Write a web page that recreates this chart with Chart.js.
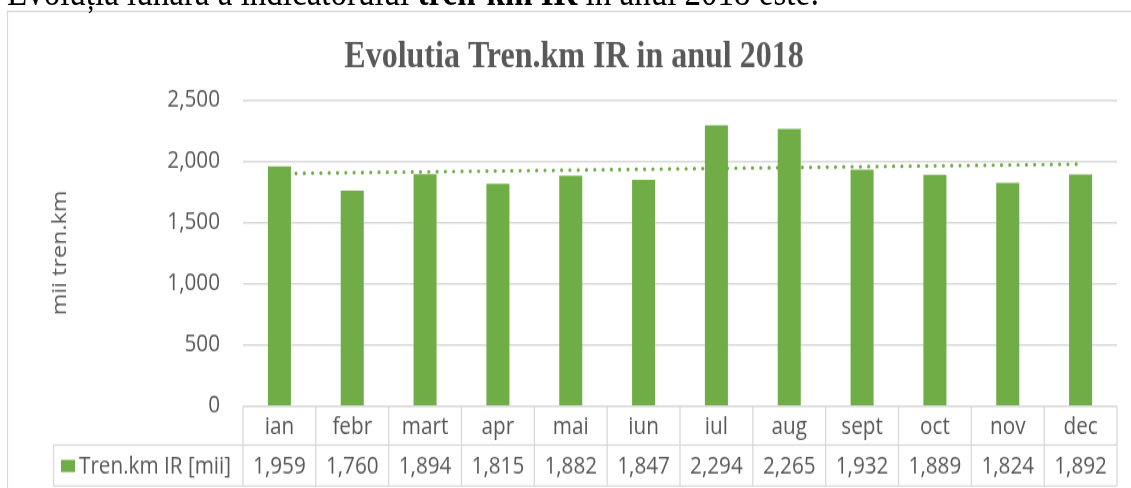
<!DOCTYPE html>
<html>
<head>
<meta charset="utf-8">
<script src="https://cdn.jsdelivr.net/npm/chart.js@4/dist/chart.umd.min.js"></script>
<style>
  html, body { margin: 0; padding: 0; background: #fff; overflow: hidden; }
  #wrap { position: absolute; left: 0; top: 0; width: 1131px; height: 407px;
          transform: scale(1, 1.199); transform-origin: 0 0; }
  #intro { position: absolute; left: 7px; top: -22.6px; white-space: nowrap;
           font: 33px/33px "Liberation Serif", "Times New Roman", serif; color: #000; }
  canvas { position: absolute; left: 0; top: 0; }
</style>
</head>
<body>
<div id="wrap">
  <canvas id="c" width="1131" height="407"></canvas>
  <div id="intro">Evoluția lunară a indicatorului <b>tren-km IR</b> în anul 2018 este:</div>
</div>
<script>
// ---- data ----
const categories = ["ian", "febr", "mart", "apr", "mai", "iun", "iul", "aug", "sept", "oct", "nov", "dec"];
const seriesName = "Tren.km IR [mii]";
const values = [1959, 1760, 1894, 1815, 1882, 1847, 2294, 2265, 1932, 1889, 1824, 1892];
const yTicks = [0, 500, 1000, 1500, 2000, 2500];
const chartTitle = "Evolutia Tren.km IR in anul 2018";
const yAxisTitle = "mii tren.km";

// linear trendline (least squares, like Excel's trendline)
function linearTrend(ys) {
  const n = ys.length;
  let sx = 0, sy = 0, sxy = 0, sxx = 0;
  ys.forEach((y, i) => { const x = i + 1; sx += x; sy += y; sxy += x * y; sxx += x * x; });
  const b = (n * sxy - sx * sy) / (n * sxx - sx * sx);
  const a = (sy - b * sx) / n;
  return ys.map((_, i) => a + b * (i + 1));
}
const trend = linearTrend(values);

const GREEN = "#70AD47";
const GRAY_TXT = "#595959";
const GRID = "#d9d9d9";
const SANS = '"Open Sans", "Noto Sans", sans-serif';
const fmt = v => v.toLocaleString("en-US");

const decorPlugin = {
  id: "decor",
  beforeDraw(chart) {
    const ctx = chart.ctx;
    ctx.save();
    ctx.strokeStyle = GRID;
    ctx.lineWidth = 1.2;
    ctx.strokeRect(7.5, 9.5, 1200, 600);
    ctx.fillStyle = GRAY_TXT;
    ctx.font = 'bold 32px "Liberation Serif", "Times New Roman", serif';
    ctx.textAlign = "center";
    ctx.textBaseline = "alphabetic";
    ctx.fillText(chartTitle, 574, 55.9);
    ctx.restore();
  },
  afterDraw(chart) {
    const ctx = chart.ctx;
    const area = chart.chartArea;
    const xs = chart.scales.x;
    const n = categories.length;
    const colW = (area.right - area.left) / n;
    const top = area.bottom;
    const mid = 371.1;
    const bot = 405.3;
    const leftCol = 53.6;
    ctx.save();
    ctx.strokeStyle = GRID;
    ctx.lineWidth = 1.3;
    ctx.beginPath();
    // horizontal lines
    ctx.moveTo(area.left, top); ctx.lineTo(area.right, top);
    ctx.moveTo(leftCol, mid); ctx.lineTo(area.right, mid);
    ctx.moveTo(leftCol, bot); ctx.lineTo(area.right, bot);
    // vertical lines
    ctx.moveTo(leftCol, mid); ctx.lineTo(leftCol, bot);
    for (let i = 0; i <= n; i++) {
      const x = area.left + i * colW;
      ctx.moveTo(x, top); ctx.lineTo(x, bot);
    }
    ctx.stroke();

    ctx.fillStyle = GRAY_TXT;
    ctx.font = "20.7px " + SANS;
    ctx.textAlign = "center";
    ctx.textBaseline = "middle";
    categories.forEach((c, i) => {
      const x = xs.getPixelForValue(i);
      ctx.fillText(c, x, (top + mid) / 2 + 1);
      ctx.fillText(fmt(values[i]), x, (mid + bot) / 2 + 1);
    });
    // legend key
    ctx.fillStyle = GREEN;
    ctx.fillRect(61, 383.5, 14, 10.2);
    ctx.fillStyle = GRAY_TXT;
    ctx.textAlign = "left";
    ctx.fillText(seriesName, 79, (mid + bot) / 2 + 1);
    ctx.restore();
  }
};

new Chart(document.getElementById("c"), {
  data: {
    labels: categories,
    datasets: [
      {
        type: "line",
        label: "trend",
        data: trend,
        borderColor: GREEN,
        borderWidth: 3.2,
        borderDash: [0, 8.3],
        borderCapStyle: "round",
        pointRadius: 0,
        fill: false,
        tension: 0,
        order: 0
      },
      {
        type: "bar",
        label: seriesName,
        data: values,
        backgroundColor: GREEN,
        borderWidth: 0,
        barPercentage: 0.316,
        categoryPercentage: 1,
        order: 1
      }
    ]
  },
  options: {
    responsive: false,
    maintainAspectRatio: false,
    devicePixelRatio: 1,
    animation: false,
    layout: { padding: { left: 40, right: 14, top: 83.4, bottom: 68.4 } },
    plugins: { legend: { display: false }, tooltip: { enabled: false }, title: { display: false } },
    scales: {
      x: { display: false, offset: true },
      y: {
        min: 0, max: 2500,
        afterFit: s => { s.width = 203; },
        afterBuildTicks: s => { s.ticks = yTicks.map(v => ({ value: v })); },
        border: { display: false },
        grid: { color: GRID, lineWidth: 1.4, drawTicks: false },
        ticks: { padding: 23, color: GRAY_TXT, font: { family: SANS, size: 20.7 }, callback: v => fmt(v) },
        title: { display: true, text: yAxisTitle, color: GRAY_TXT, font: { family: SANS, size: 19.5 }, padding: { top: 8.3, bottom: 0 } }
      }
    }
  },
  plugins: [decorPlugin]
});
</script>
</body>
</html>
